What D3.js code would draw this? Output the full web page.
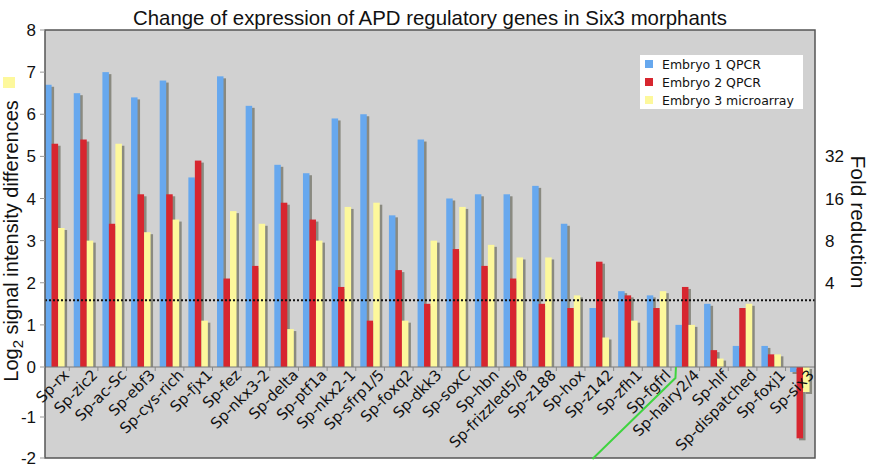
<!DOCTYPE html>
<html><head><meta charset="utf-8">
<script src="https://cdn.jsdelivr.net/npm/d3@7"></script>
<style>body{margin:0;background:#fff}svg{display:block}</style>
</head><body>
<svg id="c" width="872" height="468"></svg>
<script>
const categories = ["Sp-rx","Sp-zic2","Sp-ac-Sc","Sp-ebf3","Sp-cys-rich","Sp-fjx1","Sp-fez","Sp-nkx3-2","Sp-delta","Sp-ptf1a","Sp-nkx2-1","Sp-sfrp1/5","Sp-foxq2","Sp-dkk3","Sp-soxC","Sp-hbn","Sp-frizzled5/8","Sp-z188","Sp-hox","Sp-z142","Sp-zfh1","Sp-fgfrl","Sp-hairy2/4","Sp-hlf","Sp-dispatched","Sp-foxj1","Sp-six3"];
const embryo1 = [6.7,6.5,7.0,6.4,6.8,4.5,6.9,6.2,4.8,4.6,5.9,6.0,3.6,5.4,4.0,4.1,4.1,4.3,3.4,1.4,1.8,1.7,1.0,1.5,0.5,0.5,-0.1];
const embryo2 = [5.3,5.4,3.4,4.1,4.1,4.9,2.1,2.4,3.9,3.5,1.9,1.1,2.3,1.5,2.8,2.4,2.1,1.5,1.4,2.5,1.7,1.4,1.9,0.4,1.4,0.3,-1.52];
const embryo3 = [3.3,3.0,5.3,3.2,3.5,1.1,3.7,3.4,0.9,3.0,3.8,3.9,1.1,3.0,3.8,2.9,2.6,2.6,1.7,0.7,1.1,1.8,1.0,0.2,1.5,0.3,-0.5];
const seriesNames = ["Embryo 1 QPCR","Embryo 2 QPCR","Embryo 3 microarray"];
const seriesColors = ["#67a8ee","#d7262f","#fdf89c"];
const yTicks = [-2,-1,0,1,2,3,4,5,6,7,8];
const foldTicks = [4,8,16,32];
const threshold = Math.log2(3);
const title = "Change of expression of APD regulatory genes in Six3 morphants";

const svg = d3.select("#c");
const L = 45, R = 815, T = 30, B = 458;
const y = d3.scaleLinear().domain([-2,-1,0,8]).range([458,417,367,30]);
const x = d3.scaleBand().domain(categories).range([40.6, 814.2]).padding(0);
const xi = d3.scaleBand().domain(seriesNames).range([4.5, 24]).padding(0);
const seriesVals = [embryo1, embryo2, embryo3];

// title
svg.append("text").attr("x", 430).attr("y", 25).attr("text-anchor","middle")
  .attr("font-family","Liberation Sans, Arial, sans-serif").attr("font-size",20.4).attr("fill","#111").text(title);

// plot background
svg.append("rect").attr("x",L).attr("y",T).attr("width",R-L).attr("height",B-T).attr("fill","#d1d1d1");

// bars
const g = svg.append("g");
categories.forEach((c,i)=>{
  seriesVals.forEach((vals,s)=>{
    const v = vals[i];
    const x0 = x(c) + xi(seriesNames[s]);
    const w = xi.bandwidth();
    const y0 = Math.min(y(v), y(0)), h = Math.abs(y(v)-y(0));
    g.append("rect").attr("x", x0+2.5).attr("y", y0+2).attr("width", w).attr("height", Math.max(0,h-2+ (v<0?2:0)))
      .attr("fill","#8a8a80");
    g.append("rect").attr("x", x0).attr("y", y0).attr("width", w).attr("height", h).attr("fill", seriesColors[s]);
  });
});

// zero line
svg.append("line").attr("x1",L).attr("x2",R).attr("y1",y(0)).attr("y2",y(0)).attr("stroke","#7a7a7a").attr("stroke-width",1.2);
// category ticks
categories.slice(1).forEach(c=>{
  svg.append("line").attr("x1",x(c)).attr("x2",x(c)).attr("y1",y(0)).attr("y2",y(0)+4).attr("stroke","#888");
});
// threshold dotted line
svg.append("line").attr("x1",L).attr("x2",R).attr("y1",y(threshold)).attr("y2",y(threshold))
  .attr("stroke","#111").attr("stroke-width",2).attr("stroke-dasharray","2,2");

// frame
svg.append("rect").attr("x",L).attr("y",T).attr("width",R-L).attr("height",B-T).attr("fill","none").attr("stroke","#555").attr("stroke-width",1.5);

// left axis
yTicks.forEach(t=>{
  svg.append("line").attr("x1",L-5).attr("x2",L).attr("y1",y(t)).attr("y2",y(t)).attr("stroke","#999");
  svg.append("text").attr("x",36).attr("y",y(t)+6).attr("text-anchor","end")
    .attr("font-family","Liberation Sans, Arial, sans-serif").attr("font-size",17).attr("fill","#111").text(t);
});
// right axis (fold reduction)
foldTicks.forEach(f=>{
  svg.append("text").attr("x",825).attr("y",y(Math.log2(f))+6).attr("text-anchor","start")
    .attr("font-family","Liberation Sans, Arial, sans-serif").attr("font-size",17).attr("fill","#111").text(f);
});
svg.append("text").attr("transform","translate(851,222) rotate(90)").attr("text-anchor","middle")
  .attr("font-family","Liberation Sans, Arial, sans-serif").attr("font-size",21).attr("fill","#111").text("Fold reduction");

// left label
const yl = svg.append("text").attr("transform","translate(18,241) rotate(-90)").attr("text-anchor","middle")
  .attr("font-family","Liberation Sans, Arial, sans-serif").attr("font-size",20).attr("fill","#111");
yl.append("tspan").text("Log");
yl.append("tspan").attr("font-size",15).attr("dy",5).text("2");
yl.append("tspan").attr("dy",-5).text(" signal intensity differences");

// category labels
categories.forEach(c=>{
  const cx = x(c) + x.bandwidth()/2 + 15;
  svg.append("text").attr("transform",`translate(${cx},${y(0)+9}) rotate(-45)`).attr("text-anchor","end")
    .attr("font-family","DejaVu Sans, Verdana, sans-serif").attr("font-size",15).attr("fill","#111").text(c);
});

// legend
const lg = svg.append("g");
lg.append("rect").attr("x",640).attr("y",55).attr("width",163).attr("height",54).attr("fill","#fff");
seriesNames.forEach((n,s)=>{
  lg.append("rect").attr("x",645).attr("y",60+s*18).attr("width",8).attr("height",8).attr("fill",seriesColors[s]);
  lg.append("text").attr("x",662).attr("y",68.5+s*18).attr("font-family","DejaVu Sans, Verdana, sans-serif")
    .attr("font-size",12.5).attr("fill","#111").text(n);
});

// stray yellow square at left
svg.append("rect").attr("x",3).attr("y",77).attr("width",12).attr("height",11).attr("fill",seriesColors[2]);

// green annotation line
const gx = x("Sp-hairy2/4") + xi(seriesNames[0]);
svg.append("path").attr("d", d3.line()([[gx+0.5, y(0)], [gx, y(0)+11], [gx-83, y(-2)+1]]))
  .attr("fill","none").attr("stroke","#3fd43f").attr("stroke-width",2);
</script>
</body></html>
